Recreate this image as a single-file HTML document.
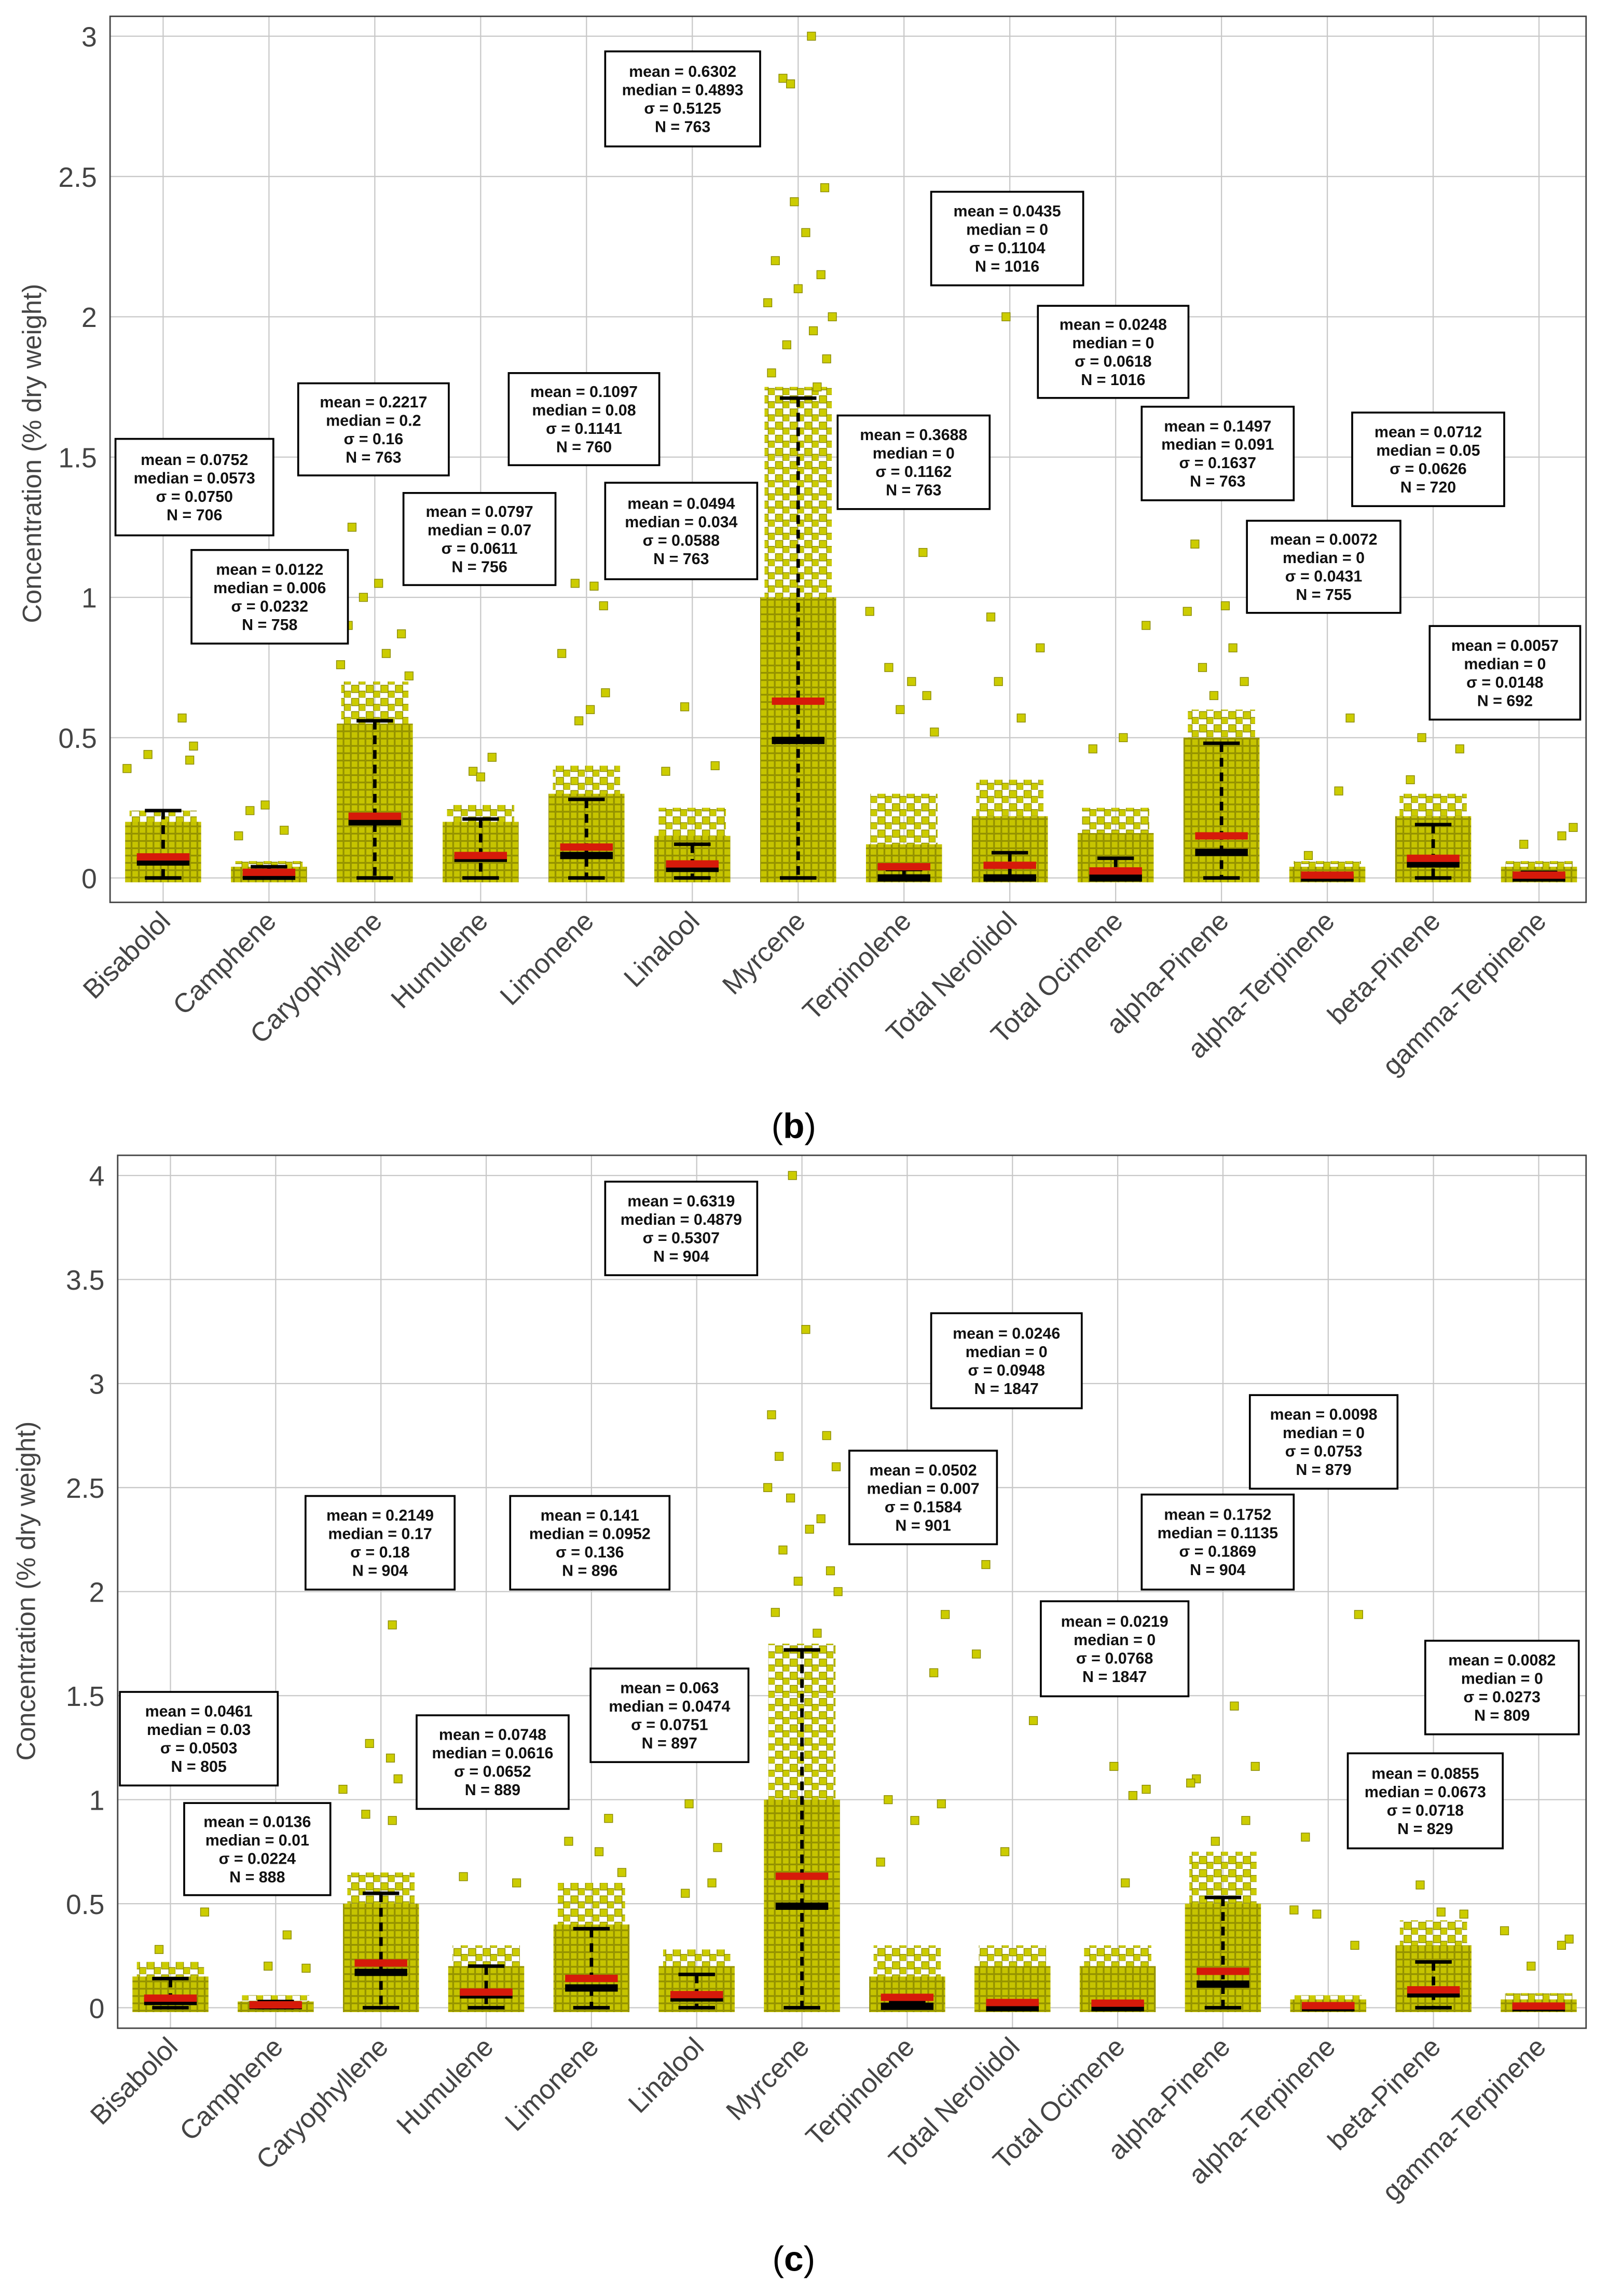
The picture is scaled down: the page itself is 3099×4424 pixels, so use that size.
<!DOCTYPE html>
<html><head><meta charset="utf-8"><style>
html,body{margin:0;padding:0;background:#fff;}
svg{display:block;}
text{font-family:"Liberation Sans",sans-serif;}
</style></head><body>
<svg id="fig" width="3099" height="4424" viewBox="0 0 1100 1570" xmlns="http://www.w3.org/2000/svg">
<defs>
<pattern id="densePat" width="5" height="5" patternUnits="userSpaceOnUse">
<rect x="0" y="0" width="5" height="5" fill="#bdbb00"/>
<rect x="0.3" y="0.3" width="4.4" height="4.4" fill="#c6c400" stroke="#8c8a00" stroke-width="0.5"/>
</pattern>
<pattern id="sparsePat" width="10" height="9" patternUnits="userSpaceOnUse">
<rect x="0.5" y="0.5" width="5" height="5" fill="#cccc00" stroke="#8a8a00" stroke-width="0.5"/>
<rect x="5.5" y="4.5" width="4.5" height="4.5" fill="#cccc00" stroke="#8a8a00" stroke-width="0.5"/>
</pattern>
</defs>
</svg>
<script>
const categories=["Bisabolol","Camphene","Caryophyllene","Humulene","Limonene","Linalool","Myrcene","Terpinolene","Total Nerolidol","Total Ocimene","alpha-Pinene","alpha-Terpinene","beta-Pinene","gamma-Terpinene"];
const bTicks=[0,0.5,1,1.5,2,2.5,3];
const bTickLabels=["0","0.5","1","1.5","2","2.5","3"];
const bMean=[0.075,0.02,0.22,0.08,0.11,0.05,0.63,0.04,0.045,0.025,0.15,0.01,0.07,0.01];
const bMedian=[0.057,0.006,0.2,0.07,0.08,0.034,0.49,0.0,0.0,0.0,0.091,0.0,0.05,0.0];
const bWhisker=[0.24,0.04,0.56,0.21,0.28,0.12,1.71,0.03,0.09,0.07,0.48,0.01,0.19,0.02];
const bCloud=[0.2,0.04,0.55,0.2,0.3,0.15,1.0,0.12,0.22,0.16,0.5,0.04,0.22,0.04];
const bCloud2=[0.24,0.06,0.7,0.26,0.4,0.25,1.75,0.3,0.35,0.25,0.6,0.06,0.3,0.06];
const bOutliers=[[0,0.57,0.5],[0,0.47,0.8],[0,0.44,-0.4],[0,0.42,0.7],[0,0.39,-0.95],[1,0.26,-0.1],[1,0.24,-0.5],[1,0.17,0.4],[1,0.15,-0.8],[2,1.25,-0.6],[2,1.05,0.1],[2,1.0,-0.3],[2,0.9,-0.7],[2,0.87,0.7],[2,0.8,0.3],[2,0.76,-0.9],[2,0.72,0.9],[3,0.43,0.3],[3,0.38,-0.2],[3,0.36,0.0],[4,1.05,-0.3],[4,1.04,0.2],[4,0.97,0.45],[4,0.8,-0.65],[4,0.66,0.5],[4,0.6,0.1],[4,0.56,-0.2],[5,0.61,-0.2],[5,0.4,0.6],[5,0.38,-0.7],[6,3.0,0.35],[6,2.85,-0.4],[6,2.83,-0.2],[6,2.46,0.7],[6,2.41,-0.1],[6,2.3,0.2],[6,2.2,-0.6],[6,2.15,0.6],[6,2.1,0.0],[6,2.05,-0.8],[6,2.0,0.9],[6,1.95,0.4],[6,1.9,-0.3],[6,1.85,0.75],[6,1.8,-0.7],[6,1.75,0.5],[7,1.16,0.5],[7,0.95,-0.9],[7,0.75,-0.4],[7,0.7,0.2],[7,0.65,0.6],[7,0.6,-0.1],[7,0.52,0.8],[8,2.0,-0.1],[8,0.93,-0.5],[8,0.82,0.8],[8,0.7,-0.3],[8,0.57,0.3],[9,0.9,0.8],[9,0.5,0.2],[9,0.46,-0.6],[10,1.19,-0.7],[10,1.15,0.8],[10,0.97,0.1],[10,0.95,-0.9],[10,0.82,0.3],[10,0.75,-0.5],[10,0.7,0.6],[10,0.65,-0.2],[11,0.57,0.6],[11,0.31,0.3],[11,0.08,-0.5],[12,0.5,-0.3],[12,0.46,0.7],[12,0.35,-0.6],[13,0.18,0.9],[13,0.15,0.6],[13,0.12,-0.4]];
const bNotes=[["0.0752","0.0573","0.0750","706"],["0.0122","0.006","0.0232","758"],["0.2217","0.2","0.16","763"],["0.0797","0.07","0.0611","756"],["0.1097","0.08","0.1141","760"],["0.0494","0.034","0.0588","763"],["0.6302","0.4893","0.5125","763"],["0.3688","0","0.1162","763"],["0.0435","0","0.1104","1016"],["0.0248","0","0.0618","1016"],["0.1497","0.091","0.1637","763"],["0.0072","0","0.0431","755"],["0.0712","0.05","0.0626","720"],["0.0057","0","0.0148","692"]];

const cTicks=[0,0.5,1,1.5,2,2.5,3,3.5,4];
const cTickLabels=["0","0.5","1","1.5","2","2.5","3","3.5","4"];
const cMean=[0.046,0.014,0.215,0.075,0.141,0.063,0.632,0.05,0.025,0.022,0.175,0.01,0.086,0.008];
const cMedian=[0.03,0.01,0.17,0.062,0.095,0.047,0.488,0.007,0.0,0.0,0.1135,0.0,0.067,0.0];
const cWhisker=[0.14,0.03,0.55,0.2,0.38,0.16,1.72,0.03,0.01,0.01,0.53,0.01,0.22,0.01];
const cCloud=[0.15,0.03,0.5,0.2,0.4,0.2,1.0,0.15,0.2,0.2,0.5,0.04,0.3,0.04];
const cCloud2=[0.22,0.06,0.65,0.3,0.6,0.28,1.75,0.3,0.3,0.3,0.75,0.06,0.42,0.07];
const cOutliers=[[0,0.46,0.9],[0,0.28,-0.3],[1,0.35,0.3],[1,0.2,-0.2],[1,0.19,0.8],[2,1.84,0.3],[2,1.27,-0.3],[2,1.2,0.25],[2,1.1,0.45],[2,1.05,-1.0],[2,0.93,-0.4],[2,0.9,0.3],[3,0.63,-0.6],[3,0.6,0.8],[4,0.91,0.45],[4,0.8,-0.6],[4,0.75,0.2],[4,0.65,0.8],[5,0.98,-0.2],[5,0.77,0.55],[5,0.6,0.4],[5,0.55,-0.3],[6,4.0,-0.25],[6,3.26,0.1],[6,2.85,-0.8],[6,2.75,0.65],[6,2.65,-0.6],[6,2.6,0.9],[6,2.5,-0.9],[6,2.45,-0.3],[6,2.35,0.5],[6,2.3,0.2],[6,2.2,-0.5],[6,2.1,0.75],[6,2.05,-0.1],[6,2.0,0.95],[6,1.9,-0.7],[6,1.8,0.4],[7,1.89,1.0],[7,1.61,0.7],[7,1.0,-0.5],[7,0.98,0.9],[7,0.9,0.2],[7,0.7,-0.7],[8,2.13,-0.7],[8,1.7,-0.95],[8,1.38,0.55],[8,0.75,-0.2],[9,1.16,-0.1],[9,1.05,0.75],[9,1.02,0.4],[9,0.6,0.2],[10,1.45,0.3],[10,1.16,0.85],[10,1.1,-0.7],[10,1.08,-0.85],[10,0.9,0.6],[10,0.8,-0.2],[11,1.89,0.8],[11,0.82,-0.6],[11,0.47,-0.9],[11,0.45,-0.3],[11,0.3,0.7],[12,0.59,-0.35],[12,0.46,0.2],[12,0.45,0.8],[13,0.37,-0.9],[13,0.33,0.8],[13,0.3,0.6],[13,0.2,-0.2]];
const cNotes=[["0.0461","0.03","0.0503","805"],["0.0136","0.01","0.0224","888"],["0.2149","0.17","0.18","904"],["0.0748","0.0616","0.0652","889"],["0.141","0.0952","0.136","896"],["0.063","0.0474","0.0751","897"],["0.6319","0.4879","0.5307","904"],["0.0502","0.007","0.1584","901"],["0.0246","0","0.0948","1847"],["0.0219","0","0.0768","1847"],["0.1752","0.1135","0.1869","904"],["0.0098","0","0.0753","879"],["0.0855","0.0673","0.0718","829"],["0.0082","0","0.0273","809"]];

const bBoxes=[[79,300,187,366],[131,376,238,440],[204,262,307,325],[276,337,380,400],[348,255,451,318],[414,330,518,396],[414,35,520,100],[573,284,677,348],[637,131,741,195],[710,209,813,272],[781,278,885,342],[853,356,958,419],[925,282,1029,346],[978,428,1081,492]];
const cBoxes=[[82,1157,190,1221],[126,1233,226,1296],[209,1023,311,1087],[285,1173,389,1237],[349,1023,458,1087],[404,1141,512,1205],[414,808,518,872],[581,992,682,1056],[637,898,740,963],[712,1095,813,1160],[781,1022,885,1087],[855,954,956,1018],[922,1199,1028,1264],[975,1122,1080,1186]];

const NS="http://www.w3.org/2000/svg";
const fig=document.getElementById('fig');
function mk(tag,attrs,parent){const e=document.createElementNS(NS,tag);for(const k in attrs)e.setAttribute(k,attrs[k]);(parent||fig).appendChild(e);return e;}

function panel(P,mean,median,whisk,cloud,cloud2,outl,notes,boxes,ticks,tickLabels,name){
  const g=mk('g',{});
  
  
  const y=v=>P.y0-v*P.k;
  const x=i=>P.x0+i*P.dx;
  ticks.forEach((t,i)=>{
    const l=mk('line',{x1:P.L,x2:P.R,y1:y(t),y2:y(t),stroke:'#c8c8c8','stroke-width':0.8},g);
    
    
    const tx=mk('text',{x:P.L-9,y:y(t)+7,'text-anchor':'end','font-size':19,fill:'#444'},g);
    tx.textContent=tickLabels[i];
    
    
  });
  categories.forEach((c,i)=>{
    const l=mk('line',{x1:x(i),x2:x(i),y1:P.T,y2:P.B,stroke:'#c8c8c8','stroke-width':0.8},g);
    
    
  });
  const hw=26;
  categories.forEach((c,i)=>{
    const r2=mk('rect',{x:x(i)-hw+3,y:y(cloud2[i]),width:2*hw-6,height:y(0)+2-y(cloud2[i]),fill:'url(#sparsePat)'},g);
    
    
    const r=mk('rect',{x:x(i)-hw,y:y(cloud[i]),width:2*hw,height:y(0)+3-y(cloud[i]),fill:'url(#densePat)'},g);
    
    
  });
  outl.forEach(o=>{
    const s=mk('rect',{x:x(o[0])+o[2]*hw-2.8,y:y(o[1])-2.8,width:5.6,height:5.6,fill:'#cccc00',stroke:'#8a8a00','stroke-width':0.5},g);
    
    
  });
  categories.forEach((c,i)=>{
    const w=mk('line',{x1:x(i),x2:x(i),y1:y(whisk[i]),y2:y(0),stroke:'#000','stroke-width':2.4,'stroke-dasharray':'6,4'},g);
    
    
    [whisk[i],0].forEach(v=>{
      const cap=mk('line',{x1:x(i)-12.5,x2:x(i)+12.5,y1:y(v),y2:y(v),stroke:'#000','stroke-width':2.4},g);
      
      
    });
    const md=mk('rect',{x:x(i)-18,y:y(median[i])-2.5,width:36,height:5,fill:'#000'},g);
    
    
    const mn=mk('rect',{x:x(i)-18,y:y(mean[i])-2.5,width:36,height:5,fill:'#d61a0a'},g);
    
    
    const lb=mk('text',{x:0,y:0,'text-anchor':'end','font-size':18.5,fill:'#444',transform:`translate(${x(i)+6},${P.B+14}) rotate(-45)`},g);
    lb.textContent=c;
    
    
  });
  const fr=mk('rect',{x:P.L,y:P.T,width:P.R-P.L,height:P.B-P.T,fill:'none',stroke:'#444','stroke-width':1},g);
  
  
  boxes.forEach((b,i)=>{
    const bg=mk('g',{},g);
    
    
    mk('rect',{x:b[0],y:b[1],width:b[2]-b[0],height:b[3]-b[1],fill:'#fff',stroke:'#000','stroke-width':1.3},bg);
    const n=notes[i];
    const lines=['mean = '+n[0],'median = '+n[1],'σ = '+n[2],'N = '+n[3]];
    const cx=(b[0]+b[2])/2, h=b[3]-b[1], lh=12.6, sy=b[1]+(h-3*lh)/2+3.8;
    lines.forEach((t,j)=>{
      const tx=mk('text',{x:cx,y:sy+j*lh,'text-anchor':'middle','font-size':10.8,'font-weight':'bold',fill:'#111'},bg);
      tx.textContent=t;
    });
  });
  const yt=mk('text',{x:0,y:0,'text-anchor':'middle','font-size':18,fill:'#444',transform:`translate(${P.yt[0]},${P.yt[1]}) rotate(-90)`},g);
  yt.textContent='Concentration (% dry weight)';
  
  
  const cap=mk('text',{x:P.cap[0],y:P.cap[1],'text-anchor':'middle','font-size':24,fill:'#000','font-family':'Liberation Serif'},g);
  cap.innerHTML='(<tspan font-weight="bold">'+P.capL+'</tspan>)';
  
  
}
panel({L:75.3,R:1085,T:11,B:617,x0:111.6,dx:72.4,y0:600.3,k:191.9,yt:[28,310],cap:[543,778],capL:'b'},
  bMean,bMedian,bWhisker,bCloud,bCloud2,bOutliers,bNotes,bBoxes,bTicks,bTickLabels,'panel-b');
panel({L:80.5,R:1085,T:790,B:1387,x0:116.6,dx:72.0,y0:1373,k:142.3,yt:[24,1088],cap:[543,1553],capL:'c'},
  cMean,cMedian,cWhisker,cCloud,cCloud2,cOutliers,cNotes,cBoxes,cTicks,cTickLabels,'panel-c');
</script>
</body></html>
